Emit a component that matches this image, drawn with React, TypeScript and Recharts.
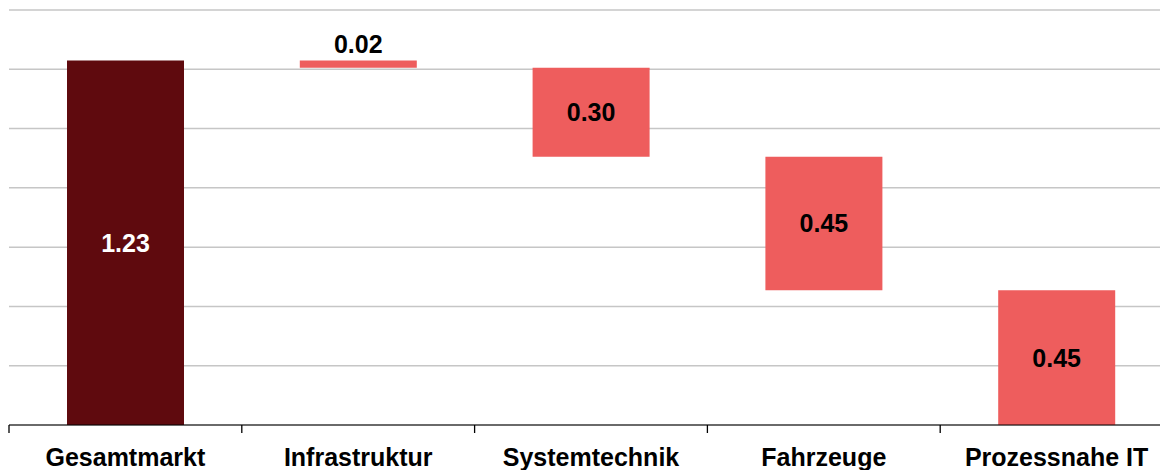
import { BarChart, Bar, XAxis, YAxis, CartesianGrid, Cell, LabelList } from "recharts";

const categories = ["Gesamtmarkt", "Infrastruktur", "Systemtechnik", "Fahrzeuge", "Prozessnahe IT"];
// waterfall: invisible offset + visible segment
const barStart = [0, 1.205, 0.905, 0.455, 0];
const barSpan = [1.23, 0.025, 0.3, 0.45, 0.455];
const valueLabels = ["1.23", "0.02", "0.30", "0.45", "0.45"];
const yTicks = [0, 0.2, 0.4, 0.6, 0.8, 1.0, 1.2, 1.4];

const TOTAL_COLOR = "#5f0a0e";
const STEP_COLOR = "#ee5d5d";
const FONT = "'Liberation Sans', Arial, Helvetica, sans-serif";

const data = categories.map((name, i) => ({
  name,
  base: barStart[i],
  span: barSpan[i],
  label: valueLabels[i],
}));

// eslint-disable-next-line @typescript-eslint/no-explicit-any
function BarLabel({ x, y, width, height, index }: any) {
  const cx = x + width / 2;
  const small = height < 24;
  return (
    <text
      x={cx}
      y={small ? y - 7 : y + height / 2}
      textAnchor="middle"
      dominantBaseline={small ? "auto" : "central"}
      fontFamily={FONT}
      fontWeight={700}
      fontSize={25}
      fill={index === 0 ? "#fff" : "#000"}
    >
      {valueLabels[index]}
    </text>
  );
}

// category label plus a tick mark on the left edge of each band
// eslint-disable-next-line @typescript-eslint/no-explicit-any
function CategoryTick({ x, y, payload }: any) {
  const half = payload?.offset ?? 0;
  return (
    <g>
      {half > 0 && <line x1={x - half} x2={x - half} y1={y} y2={y + 8} stroke="#000" strokeWidth={1.3} />}
      <text x={x} y={y + 23} dy="0.71em" textAnchor="middle" fontFamily={FONT} fontWeight={700} fontSize={25} fill="#000">
        {payload.value}
      </text>
    </g>
  );
}

export default function App() {
  return (
    <div style={{ position: "absolute", left: 0, top: 0, width: 1160, height: 470, overflow: "hidden", background: "#fff" }}>
      <BarChart width={1173} height={470} data={data} margin={{ top: 10, right: 0, bottom: 0, left: 9 }}>
        <CartesianGrid vertical={false} stroke="#c6c6c6" strokeWidth={1.5} />
        <YAxis hide domain={[0, 1.4]} ticks={yTicks} />
        <XAxis
          dataKey="name"
          height={45}
          axisLine={{ stroke: "#000", strokeWidth: 1.2 }}
          tickLine={false}
          tickSize={0}
          tickMargin={0}
          interval={0}
          tick={<CategoryTick />}
        />
        <Bar dataKey="base" stackId="w" fill="transparent" barSize={117} isAnimationActive={false} />
        <Bar dataKey="span" stackId="w" barSize={117} isAnimationActive={false}>
          {data.map((d, i) => (
            <Cell key={d.name} fill={i === 0 ? TOTAL_COLOR : STEP_COLOR} />
          ))}
          <LabelList dataKey="label" content={<BarLabel />} />
        </Bar>
      </BarChart>
    </div>
  );
}
